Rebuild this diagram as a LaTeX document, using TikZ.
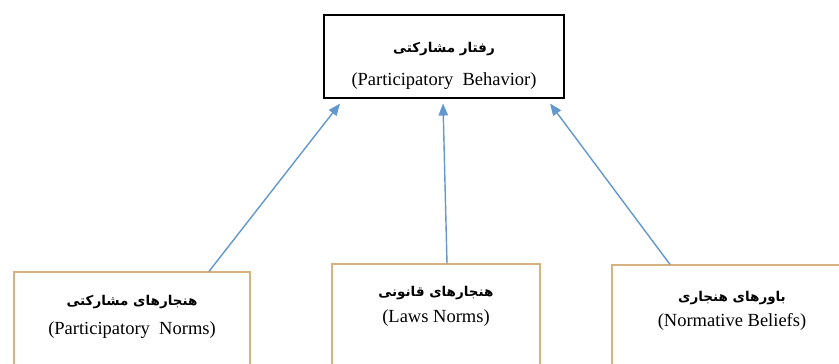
\documentclass[tikz,border=0pt]{standalone}
\usepackage{fontspec}
\setmainfont{Liberation Serif}
\newfontfamily\farsi[Script=Arabic]{DejaVu Sans}
\TeXXeTstate=1
\usetikzlibrary{arrows.meta}
\definecolor{normline}{RGB}{214,178,128}
\definecolor{arrowblue}{RGB}{98,152,204}
\begin{document}
\begin{tikzpicture}[
    x=1pt,y=-1pt,
    behavior/.style={draw=black,line width=1.1pt,fill=white,minimum width=240pt,minimum height=83pt},
    normbox/.style={draw=normline,line width=1.2pt,fill=white,minimum width=#1,minimum height=118pt},
    fa/.style={font=\farsi\bfseries\fontsize{13.5}{16}\selectfont},
    en/.style={font=\fontsize{18.5}{22}\selectfont},
    amark/.style={
    -{Triangle[length=12pt,width=9.5pt]},
    draw=arrowblue,
    line width=1.4pt
    }
]
\useasboundingbox (0,0) rectangle (839,364);

%Draw the boxes
\node[behavior] (pb) at (444,56.5) {};
\node[normbox=236pt] (pn) at (132,331) {};
\node[normbox=208pt] (ln) at (436,323) {};
\node[normbox=240pt] (nb) at (732,324) {};

%Draw the texts
\node[fa] (pbfa) at (444,49) {\beginR رفتار مشارکتی\endR};
\node[en] (pben) at (444,81) {(Participatory\ \ Behavior)};
\node[fa] (pnfa) at (132,302) {\beginR هنجارهای مشارکتی\endR};
\node[en] (pnen) at (132,330) {(Participatory\ \ Norms)};
\node[fa] (lnfa) at (436,293) {\beginR هنجارهای قانونی\endR};
\node[en] (lnen) at (436,318) {(Laws Norms)};
\node[fa] (nbfa) at (732,298) {\beginR باورهای هنجاری\endR};
\node[en] (nben) at (732,322) {(Normative Beliefs)};

%Draw the connections
\draw[amark] ([xshift=77pt]pn.north) to ([xshift=-104pt,yshift=-5pt]pb.south);
\draw[amark] ([xshift=11pt]ln.north) to ([xshift=-1pt,yshift=-5pt]pb.south);
\draw[amark] ([xshift=-62pt]nb.north) to ([xshift=106pt,yshift=-5pt]pb.south);

\end{tikzpicture}
\end{document}
